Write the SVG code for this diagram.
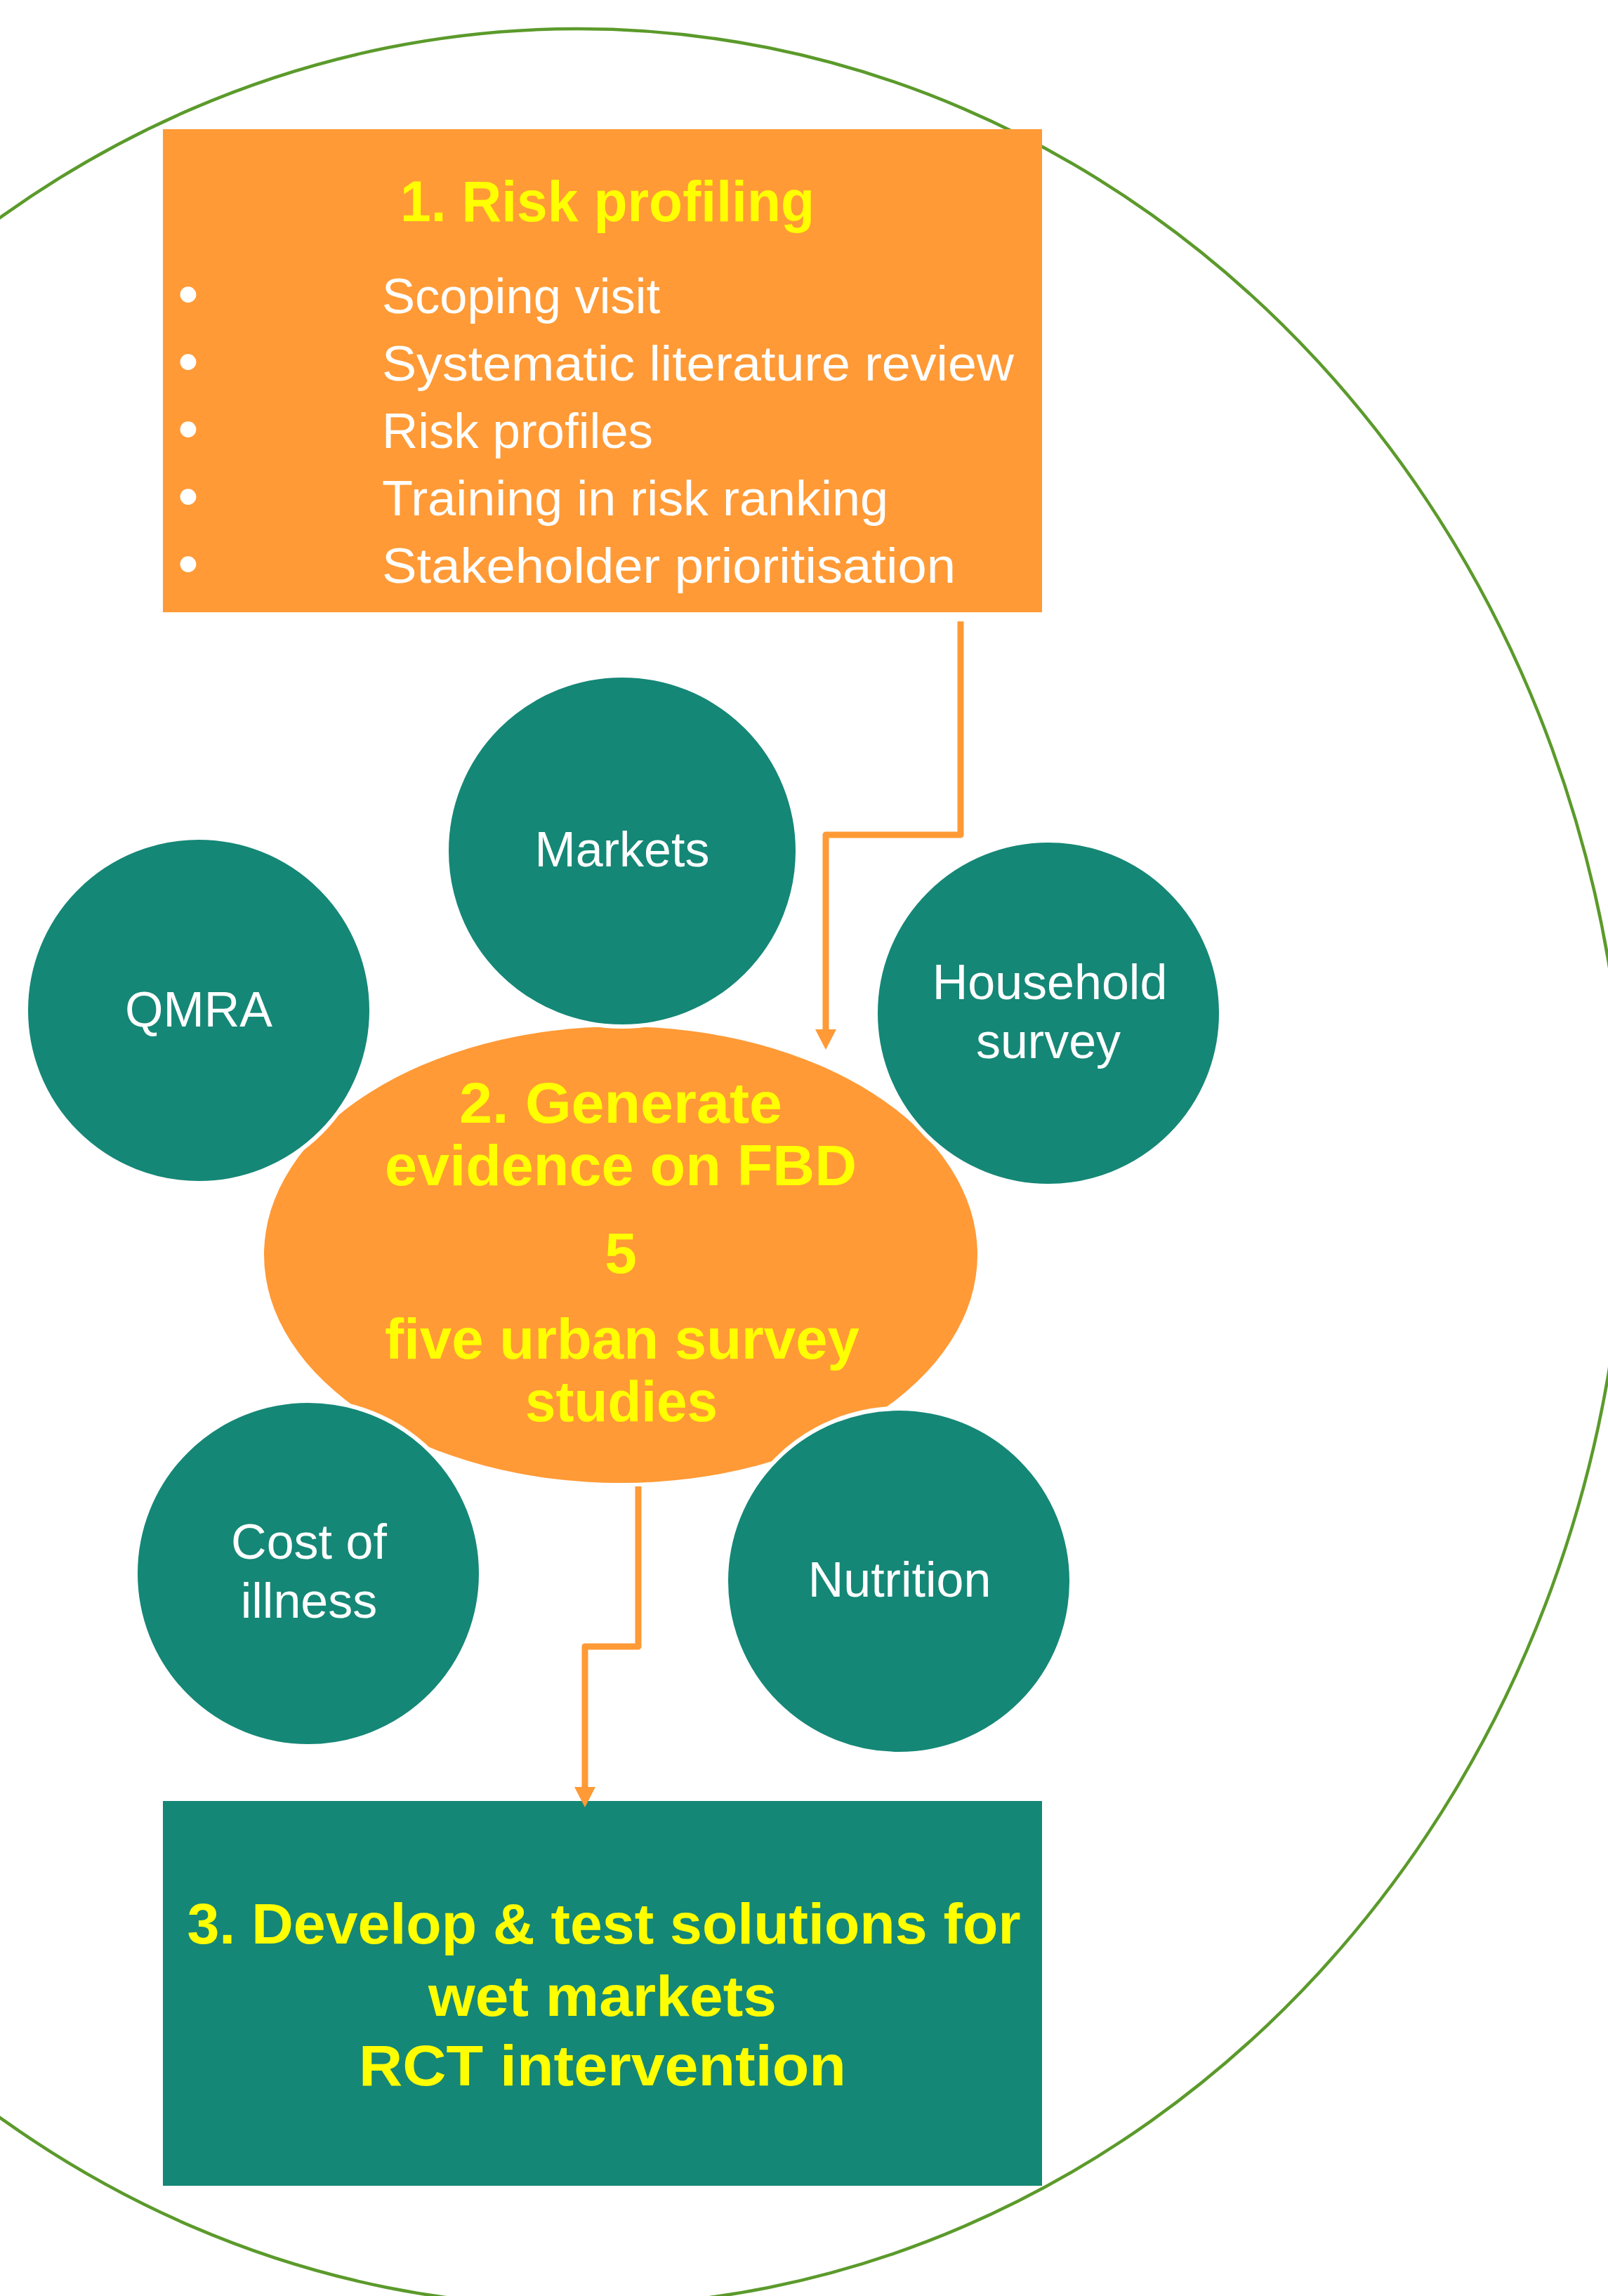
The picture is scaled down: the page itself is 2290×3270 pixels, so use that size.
<svg xmlns="http://www.w3.org/2000/svg" width="2290" height="3270" viewBox="0 0 2290 3270">
<style>
.orange{fill:#FF9A36}
.teal{fill:#158776}
.circ{fill:#158776;stroke:#ffffff;stroke-width:6}
.ytxt{font-family:"Liberation Sans",Arial,sans-serif;font-weight:bold;font-size:82px;fill:#FFFF00;text-anchor:middle}
.wtxt{font-family:"Liberation Sans",Arial,sans-serif;font-size:70px;fill:#ffffff}
.wc{text-anchor:middle}
.bul{font-size:84px;text-anchor:middle}
.conn{fill:none;stroke:#FF9A36;stroke-width:9;stroke-linejoin:round}
</style>
<defs>
<marker id="arr" markerUnits="userSpaceOnUse" markerWidth="30" markerHeight="30" viewBox="0 0 28 28" refX="0" refY="14" orient="auto">
<path d="M0 0 L27 14 L0 28 Z" fill="#FF9A36"/>
</marker>
</defs>
<rect x="0" y="0" width="2290" height="3270" fill="#ffffff"/>
<g id="frame">
<ellipse cx="823" cy="1663" rx="1492" ry="1622" fill="none" stroke="#5B9A2B" stroke-width="4.5"/>
</g>
<g id="node-risk-profiling">
<rect class="orange" x="232" y="184" width="1252" height="688"/>
<text class="ytxt" x="865" y="315" textLength="590" lengthAdjust="spacingAndGlyphs">1. Risk profiling</text>
<g class="wtxt">
<text class="bul" x="268" y="447">•</text>
<text class="bul" x="268" y="543">•</text>
<text class="bul" x="268" y="639">•</text>
<text class="bul" x="268" y="735">•</text>
<text class="bul" x="268" y="831">•</text>
<text x="544" y="446" textLength="396" lengthAdjust="spacingAndGlyphs">Scoping visit</text>
<text x="544" y="542" textLength="900" lengthAdjust="spacingAndGlyphs">Systematic literature review</text>
<text x="544" y="638" textLength="386" lengthAdjust="spacingAndGlyphs">Risk profiles</text>
<text x="544" y="734" textLength="721" lengthAdjust="spacingAndGlyphs">Training in risk ranking</text>
<text x="544" y="830" textLength="817" lengthAdjust="spacingAndGlyphs">Stakeholder prioritisation</text>
</g>
</g>
<g id="node-generate-evidence">
<ellipse class="orange" cx="884" cy="1787" rx="508" ry="325"/>
<text class="ytxt" x="884" y="1599" textLength="460" lengthAdjust="spacingAndGlyphs">2. Generate</text>
<text class="ytxt" x="884" y="1688" textLength="672" lengthAdjust="spacingAndGlyphs">evidence on FBD</text>
<text class="ytxt" x="884" y="1813">5</text>
<text class="ytxt" x="886" y="1935" textLength="676" lengthAdjust="spacingAndGlyphs">five urban survey</text>
<text class="ytxt" x="885" y="2024" textLength="274" lengthAdjust="spacingAndGlyphs">studies</text>
</g>
<g id="node-markets">
<circle class="circ" cx="886" cy="1212" r="250"/>
<text class="wtxt wc" x="886" y="1234">Markets</text>
</g>
<g id="node-qmra">
<circle class="circ" cx="283" cy="1439" r="246"/>
<text class="wtxt wc" x="283" y="1462">QMRA</text>
</g>
<g id="node-household-survey">
<circle class="circ" cx="1493" cy="1443" r="246"/>
<text class="wtxt wc" x="1495" y="1423">Household</text>
<text class="wtxt wc" x="1493" y="1507">survey</text>
</g>
<g id="node-cost-of-illness">
<circle class="circ" cx="439" cy="2241" r="246"/>
<text class="wtxt wc" x="440" y="2220">Cost of</text>
<text class="wtxt wc" x="440" y="2304">illness</text>
</g>
<g id="node-nutrition">
<circle class="circ" cx="1280" cy="2252" r="246"/>
<text class="wtxt wc" x="1281" y="2274">Nutrition</text>
</g>
<g id="node-develop-solutions">
<rect class="teal" x="232" y="2565" width="1252" height="548"/>
<text class="ytxt" x="860" y="2768" textLength="1187" lengthAdjust="spacingAndGlyphs">3. Develop &amp; test solutions for</text>
<text class="ytxt" x="858" y="2871" textLength="496" lengthAdjust="spacingAndGlyphs">wet markets</text>
<text class="ytxt" x="858" y="2970" textLength="694" lengthAdjust="spacingAndGlyphs">RCT intervention</text>
</g>
<g id="connectors">
<path class="conn" d="M1368 885 V1189 H1176 V1466" marker-end="url(#arr)"/>
<path class="conn" d="M909 2117 V2345 H833 V2545" marker-end="url(#arr)"/>
</g>
</svg>
